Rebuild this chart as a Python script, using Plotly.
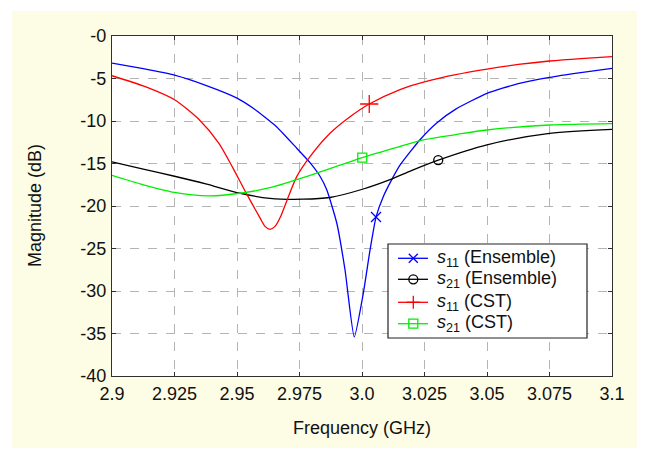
import plotly.graph_objects as go

# ---- data ----
s11_ens_freq = [2.900, 2.9125, 2.925, 2.9375, 2.950, 2.9565, 2.9659, 2.9739, 2.9792, 2.9832,
                2.9859, 2.9899, 2.9932, 2.9969, 3.0005, 3.0032, 3.0056, 3.0085, 3.0119, 3.0152,
                3.0232, 3.030, 3.0375, 3.050, 3.0625, 3.075, 3.0875, 3.100]
s11_ens_db = [-3.2, -3.85, -4.6, -5.8, -7.3, -8.5, -10.7, -13.2, -14.9, -16.5,
              -18.1, -22.0, -27.5, -35.4, -30.3, -25.2, -21.3, -18.9, -16.9, -15.2,
              -12.2, -10.2, -8.6, -6.75, -5.6, -4.86, -4.3, -3.8]
s11_ens_mark = 16

s21_ens_freq = [2.900, 2.9125, 2.925, 2.9375, 2.9513, 2.9632, 2.9765, 2.9872, 3.0005,
                3.0112, 3.020, 3.0305, 3.050, 3.075, 3.100]
s21_ens_db = [-14.8, -15.65, -16.5, -17.4, -18.5, -19.1, -19.2, -19.0, -18.0,
              -16.9, -15.8, -14.6, -12.8, -11.45, -10.98]
s21_ens_mark = 11

s11_cst_freq = [2.900, 2.9133, 2.925, 2.9347, 2.9427, 2.9485, 2.9539, 2.9592, 2.9612, 2.9632,
                2.9652, 2.9675, 2.9699, 2.9739, 2.9792, 2.9872, 2.9952, 3.0029, 3.0152, 3.025,
                3.0375, 3.050, 3.0625, 3.075, 3.0875, 3.100]
s11_cst_db = [-4.67, -5.96, -7.5, -9.8, -12.6, -15.6, -18.6, -21.4, -22.4, -22.75,
              -22.4, -21.2, -19.4, -16.55, -14.2, -11.45, -9.5, -8.0, -6.3, -5.4,
              -4.55, -3.9, -3.35, -2.94, -2.65, -2.43]
s11_cst_mark = 17

s21_cst_freq = [2.900, 2.9125, 2.925, 2.9387, 2.9513, 2.9632, 2.9739, 2.9872, 3.0001, 3.0152,
                3.025, 3.0375, 3.050, 3.075, 3.100]
s21_cst_db = [-16.4, -17.5, -18.4, -18.8, -18.5, -17.85, -16.9, -15.6, -14.3, -13.0,
              -12.2, -11.6, -11.06, -10.47, -10.3]
s21_cst_mark = 8

legend_labels = ["<i>s</i><sub>11</sub> (Ensemble)", "<i>s</i><sub>21</sub> (Ensemble)",
                 "<i>s</i><sub>11</sub> (CST)", "<i>s</i><sub>21</sub> (CST)"]

x_tickvals = [2.9, 2.925, 2.95, 2.975, 3.0, 3.025, 3.05, 3.075, 3.1]
x_ticktext = ["2.9", "2.925", "2.95", "2.975", "3.0", "3.025", "3.05", "3.075", "3.1"]
y_tickvals = [0, -5, -10, -15, -20, -25, -30, -35, -40]
y_ticktext = ["-0", "-5", "-10", "-15", "-20", "-25", "-30", "-35", "-40"]

colors = ["#0000ff", "#000000", "#ff0000", "#00ee00"]
series = [
    (s11_ens_freq, s11_ens_db, s11_ens_mark, "x-thin-open", 10, 0.5),
    (s21_ens_freq, s21_ens_db, s21_ens_mark, "circle-open", 9, 0.8),
    (s11_cst_freq, s11_cst_db, s11_cst_mark, "cross-thin-open", 13, 0.7),
    (s21_cst_freq, s21_cst_db, s21_cst_mark, "square-open", 9, 0.8),
]

fig = go.Figure()
for (fx, fy, mk, sym, ms, sm), col in zip(series, colors):
    fig.add_trace(go.Scatter(x=fx, y=fy, mode="lines", showlegend=False,
                             line=dict(color=col, width=1.3, shape="spline", smoothing=sm),
                             hoverinfo="skip"))
for (fx, fy, mk, sym, ms, sm), col in zip(series, colors):
    fig.add_trace(go.Scatter(x=[fx[mk]], y=[fy[mk]], mode="markers", showlegend=False,
                             marker=dict(symbol=sym, size=ms, color=col,
                                         line=dict(color=col, width=1.3))))

font = "Liberation Sans, Arial, sans-serif"
axis_common = dict(showgrid=True, gridcolor="#b4b4b4", griddash="dash", gridwidth=1,
                   showline=True, linecolor="#303030", linewidth=1.2, mirror="ticks",
                   ticks="inside", ticklen=4, tickcolor="#303030", zeroline=False,
                   tickfont=dict(family=font, size=18, color="#111111"))

# ---- legend drawn as layout decoration (box, sample lines, glyphs, text) ----
shapes = [
    dict(type="rect", xref="paper", yref="paper", x0=-0.2, x1=1.08, y0=-0.212, y1=1.0735,
         fillcolor="#fdfce4", line=dict(width=0), layer="below"),
    dict(type="rect", xref="paper", yref="paper", x0=0, x1=1, y0=0, y1=1,
         fillcolor="white", line=dict(width=0), layer="below"),
    dict(type="rect", xref="paper", yref="paper", x0=0.552, x1=0.95, y0=0.1118, y1=0.3882,
         fillcolor="white", line=dict(color="#222222", width=1.2), layer="above"),
]
annotations = []
row_y = [0.3462, 0.2844, 0.2168, 0.1538]
lx0, lx1, mx, tx = 0.572, 0.632, 0.6026, 0.646
glyph_half = [4.5, 4.5, 6.5, 4.5]
for i, (lab, col, ry, h) in enumerate(zip(legend_labels, colors, row_y, glyph_half)):
    ln = dict(color=col, width=1.3)
    shapes.append(dict(type="line", xref="paper", yref="paper", x0=lx0, x1=lx1, y0=ry, y1=ry,
                       line=ln, layer="above"))
    pix = dict(xref="paper", yref="paper", xsizemode="pixel", ysizemode="pixel",
               xanchor=mx, yanchor=ry, line=ln, layer="above")
    if i == 0:
        shapes.append(dict(type="line", x0=-h, x1=h, y0=-h, y1=h, **pix))
        shapes.append(dict(type="line", x0=-h, x1=h, y0=h, y1=-h, **pix))
    elif i == 1:
        shapes.append(dict(type="circle", x0=-h, x1=h, y0=-h, y1=h, fillcolor="rgba(0,0,0,0)", **pix))
    elif i == 2:
        shapes.append(dict(type="line", x0=-h, x1=h, y0=0, y1=0, **pix))
        shapes.append(dict(type="line", x0=0, x1=0, y0=-h, y1=h, **pix))
    else:
        shapes.append(dict(type="rect", x0=-h, x1=h, y0=-h, y1=h, fillcolor="rgba(0,0,0,0)", **pix))
    annotations.append(dict(text=lab, xref="paper", yref="paper", x=tx, y=ry,
                            xanchor="left", yanchor="middle", showarrow=False,
                            font=dict(family=font, size=18, color="#111111")))

annotations += [
    dict(text="Frequency (GHz)", xref="paper", yref="paper", x=0.5, y=-0.153,
         xanchor="center", yanchor="middle", showarrow=False,
         font=dict(family=font, size=18, color="#111111")),
    dict(text="Magnitude (dB)", xref="paper", yref="paper", x=-0.154, y=0.5,
         xanchor="center", yanchor="middle", textangle=-90, showarrow=False,
         font=dict(family=font, size=18, color="#111111")),
]

# the page body adds an 8px offset, so the figure is 8px smaller than the window
fig.update_layout(
    width=637, height=442,
    margin=dict(l=104, r=33, t=28, b=74),
    paper_bgcolor="white", plot_bgcolor="white",
    font=dict(family=font, size=18, color="#111111"),
    showlegend=False,
    xaxis=dict(range=[2.9, 3.1], tickvals=x_tickvals, ticktext=x_ticktext,
               ticklabelstandoff=1, **axis_common),
    yaxis=dict(range=[-40, 0], tickvals=y_tickvals, ticktext=y_ticktext,
               ticklabelstandoff=1, **axis_common),
    shapes=shapes,
    annotations=annotations,
)

fig.write_html("out.html")
